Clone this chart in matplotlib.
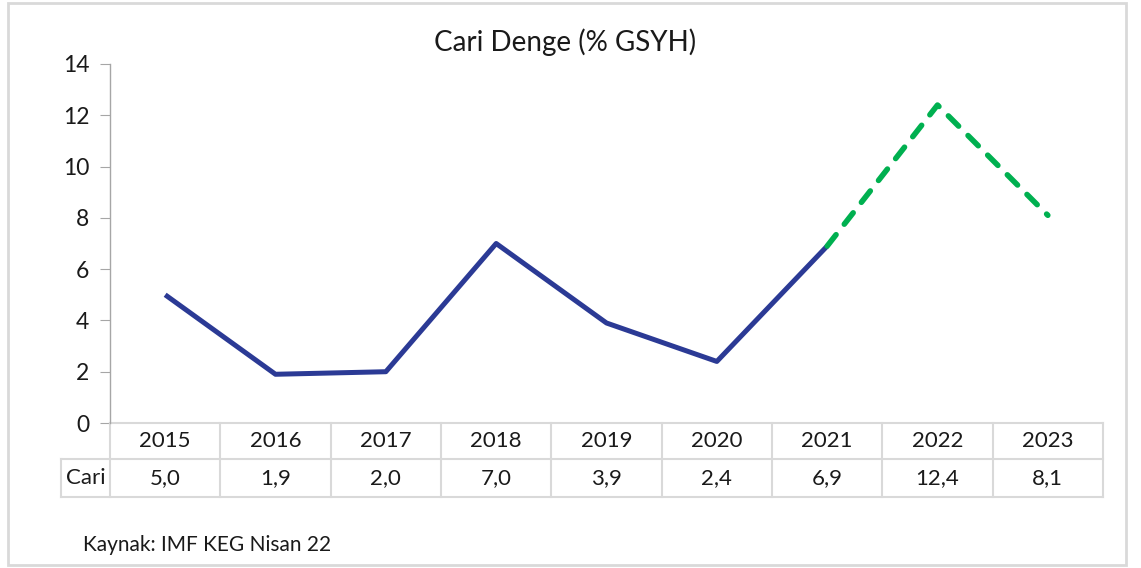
import matplotlib
matplotlib.use("Agg")
import matplotlib.pyplot as plt
import matplotlib.transforms as mtransforms
from matplotlib.patches import Rectangle

plt.rcParams['font.family'] = ['Lato', 'DejaVu Sans']

years = ["2015", "2016", "2017", "2018", "2019", "2020", "2021", "2022", "2023"]
cari = [5.0, 1.9, 2.0, 7.0, 3.9, 2.4, 6.9, 12.4, 8.1]
cari_labels = ["5,0", "1,9", "2,0", "7,0", "3,9", "2,4", "6,9", "12,4", "8,1"]
series_name = "Cari"
title = "Cari Denge (% GSYH)"
source = "Kaynak: IMF KEG Nisan 22"
n_actual = 7  # 2015-2021 actual, then projection

W, H = 1141, 568
fig = plt.figure(figsize=(W / 100, H / 100), dpi=100)
fig.patch.set_facecolor("white")

# outer frame
fig.add_artist(Rectangle((8 / W, 3 / H), (1126 - 8) / W, (565 - 3) / H,
                         transform=fig.transFigure, fill=False,
                         edgecolor="#D9D9D9", linewidth=2))

left, right, top, bottom = 110, 1103, 64, 423
ax = fig.add_axes([left / W, 1 - bottom / H, (right - left) / W, (bottom - top) / H])
x = list(range(len(years)))
ax.plot(x[:n_actual], cari[:n_actual], color="#2B3A95", linewidth=3.6,
        solid_capstyle="butt", zorder=3)
ax.plot(x[n_actual - 1:], cari[n_actual - 1:], color="#00B050", linewidth=4,
        linestyle=(0, (2.6, 2.4)), dash_capstyle="round", zorder=4)

ax.set_xlim(-0.5, len(years) - 0.5)
ax.set_ylim(0, 14)
ax.set_yticks(range(0, 15, 2))
ax.set_xticks([])
for s in ["top", "right", "bottom"]:
    ax.spines[s].set_visible(False)
ax.spines["left"].set_color("#A6A6A6")
ax.spines["left"].set_linewidth(1)
ax.tick_params(axis="y", length=7, color="#A6A6A6", labelsize=16.5,
               labelcolor="#1A1A1A", pad=8)

# title
fig.text(565 / W, 1 - 42 / H, title, ha="center", va="center", fontsize=20,
         color="#1A1A1A")

# data table
ax_h = bottom - top
row_h = 36 / ax_h
row2_h = 38 / ax_h
trans = mtransforms.blended_transform_factory(ax.transData, ax.transAxes)
gc = "#D9D9D9"
lw = 1.5
y0 = 0
y1 = -row_h
y2 = -row_h - row2_h
hdr = 49 / 110.3
ax.plot([-0.5, len(years) - 0.5], [y0, y0], transform=trans, color=gc, lw=lw, clip_on=False)
ax.plot([-0.5 - hdr, len(years) - 0.5], [y1, y1], transform=trans, color=gc, lw=lw, clip_on=False)
ax.plot([-0.5 - hdr, len(years) - 0.5], [y2, y2], transform=trans, color=gc, lw=lw, clip_on=False)
for i in range(len(years) + 1):
    ax.plot([i - 0.5, i - 0.5], [y0, y2], transform=trans, color=gc, lw=lw, clip_on=False)
ax.plot([-0.5 - hdr] * 2, [y1, y2], transform=trans, color=gc, lw=lw, clip_on=False)

for i, (yr, lab) in enumerate(zip(years, cari_labels)):
    ax.text(i, (y0 + y1) / 2, yr, transform=trans, ha="center", va="center",
            fontsize=16, color="#1A1A1A", clip_on=False)
    ax.text(i, (y1 + y2) / 2, lab, transform=trans, ha="center", va="center",
            fontsize=16, color="#1A1A1A", clip_on=False)
ax.text(-0.5 - hdr / 2, (y1 + y2) / 2, series_name, transform=trans,
        ha="center", va="center", fontsize=16, color="#1A1A1A", clip_on=False)

fig.text(83 / W, 1 - 545 / H, source, ha="left", va="center", fontsize=15,
         color="#1A1A1A")

fig.savefig("out.png", dpi=100)
